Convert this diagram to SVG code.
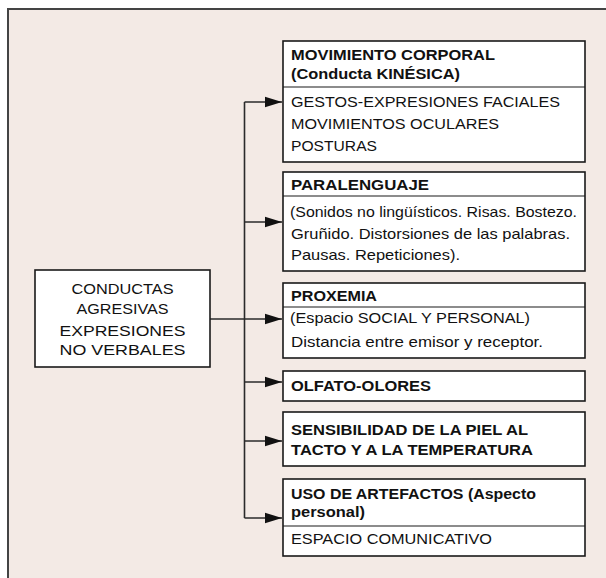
<svg xmlns="http://www.w3.org/2000/svg" width="606" height="578" viewBox="0 0 606 578">
<style>
text{font-family:"Liberation Sans",Arial,Helvetica,sans-serif;font-size:15px;fill:#111}
.b{font-weight:bold;font-size:14.5px}
.c{text-anchor:middle}
.box{fill:#fff;stroke:#1a1a1a;stroke-width:1.6}
.div{stroke:#1a1a1a;stroke-width:1.2}
.ln{fill:none;stroke:#2a2a2a;stroke-width:1.6}
</style>
<defs>
<marker id="ah" markerWidth="17" markerHeight="12" refX="17" refY="6" orient="auto" markerUnits="userSpaceOnUse">
<path d="M0,0.8 L17,6 L0,11.2 Z" fill="#111"/>
</marker>
</defs>
<rect x="0" y="0" width="606" height="578" fill="#fff"/>
<rect x="8" y="9" width="620" height="600" fill="#F3EAE5"/>
<path d="M8,578 V9 H606" fill="none" stroke="#444" stroke-width="2"/>

<g id="connectors">
<path class="ln" d="M244.5,102 V518"/>
<path class="ln" d="M210,319 H244.5"/>
<path class="ln" d="M244.5,102 H282" marker-end="url(#ah)"/>
<path class="ln" d="M244.5,222 H282" marker-end="url(#ah)"/>
<path class="ln" d="M244.5,319 H282" marker-end="url(#ah)"/>
<path class="ln" d="M244.5,382 H282" marker-end="url(#ah)"/>
<path class="ln" d="M244.5,441 H282" marker-end="url(#ah)"/>
<path class="ln" d="M244.5,518 H282" marker-end="url(#ah)"/>
</g>

<g id="root">
<rect class="box" x="35" y="270" width="175" height="97"/>
<text class="c" x="122.5" y="294" textLength="102" lengthAdjust="spacingAndGlyphs">CONDUCTAS</text>
<text class="c" x="122.5" y="314" textLength="92" lengthAdjust="spacingAndGlyphs">AGRESIVAS</text>
<text class="c" x="122.5" y="336" textLength="126" lengthAdjust="spacingAndGlyphs">EXPRESIONES</text>
<text class="c" x="122.5" y="355" textLength="126" lengthAdjust="spacingAndGlyphs">NO VERBALES</text>
</g>

<g id="movimiento">
<rect class="box" x="283" y="41" width="302" height="121"/>
<line class="div" x1="283" y1="87" x2="585" y2="87"/>
<text class="b" x="291" y="60" textLength="204" lengthAdjust="spacingAndGlyphs">MOVIMIENTO CORPORAL</text>
<text class="b" x="291" y="79" textLength="169" lengthAdjust="spacingAndGlyphs">(Conducta KINÉSICA)</text>
<text x="291" y="107" textLength="269" lengthAdjust="spacingAndGlyphs">GESTOS-EXPRESIONES FACIALES</text>
<text x="291" y="129" textLength="208" lengthAdjust="spacingAndGlyphs">MOVIMIENTOS OCULARES</text>
<text x="291" y="151" textLength="86" lengthAdjust="spacingAndGlyphs">POSTURAS</text>
</g>

<g id="paralenguaje">
<rect class="box" x="283" y="172" width="302" height="99"/>
<line class="div" x1="283" y1="196" x2="585" y2="196"/>
<text class="b" x="291" y="190" textLength="138" lengthAdjust="spacingAndGlyphs">PARALENGUAJE</text>
<text x="290" y="217" textLength="287" lengthAdjust="spacingAndGlyphs">(Sonidos no lingüísticos. Risas. Bostezo.</text>
<text x="291" y="239" textLength="279" lengthAdjust="spacingAndGlyphs">Gruñido. Distorsiones de las palabras.</text>
<text x="291" y="260" textLength="169" lengthAdjust="spacingAndGlyphs">Pausas. Repeticiones).</text>
</g>

<g id="proxemia">
<rect class="box" x="283" y="283" width="302" height="75"/>
<line class="div" x1="283" y1="307" x2="585" y2="307"/>
<text class="b" x="291" y="301" textLength="86" lengthAdjust="spacingAndGlyphs">PROXEMIA</text>
<text x="290" y="323" textLength="240" lengthAdjust="spacingAndGlyphs">(Espacio SOCIAL Y PERSONAL)</text>
<text x="291" y="347" textLength="252" lengthAdjust="spacingAndGlyphs">Distancia entre emisor y receptor.</text>
</g>

<g id="olfato">
<rect class="box" x="283" y="371" width="302" height="30"/>
<text class="b" x="291" y="391" textLength="140" lengthAdjust="spacingAndGlyphs">OLFATO-OLORES</text>
</g>

<g id="sensibilidad">
<rect class="box" x="283" y="412" width="302" height="54"/>
<text class="b" x="291" y="435" textLength="237" lengthAdjust="spacingAndGlyphs">SENSIBILIDAD DE LA PIEL AL</text>
<text class="b" x="291" y="455" textLength="242" lengthAdjust="spacingAndGlyphs">TACTO Y A LA TEMPERATURA</text>
</g>

<g id="artefactos">
<rect class="box" x="283" y="479" width="302" height="77"/>
<line class="div" x1="283" y1="526" x2="585" y2="526"/>
<text class="b" x="291" y="499" textLength="245" lengthAdjust="spacingAndGlyphs">USO DE ARTEFACTOS (Aspecto</text>
<text class="b" x="291" y="517" textLength="74" lengthAdjust="spacingAndGlyphs">personal)</text>
<text x="291" y="544" textLength="201" lengthAdjust="spacingAndGlyphs">ESPACIO COMUNICATIVO</text>
</g>
</svg>
